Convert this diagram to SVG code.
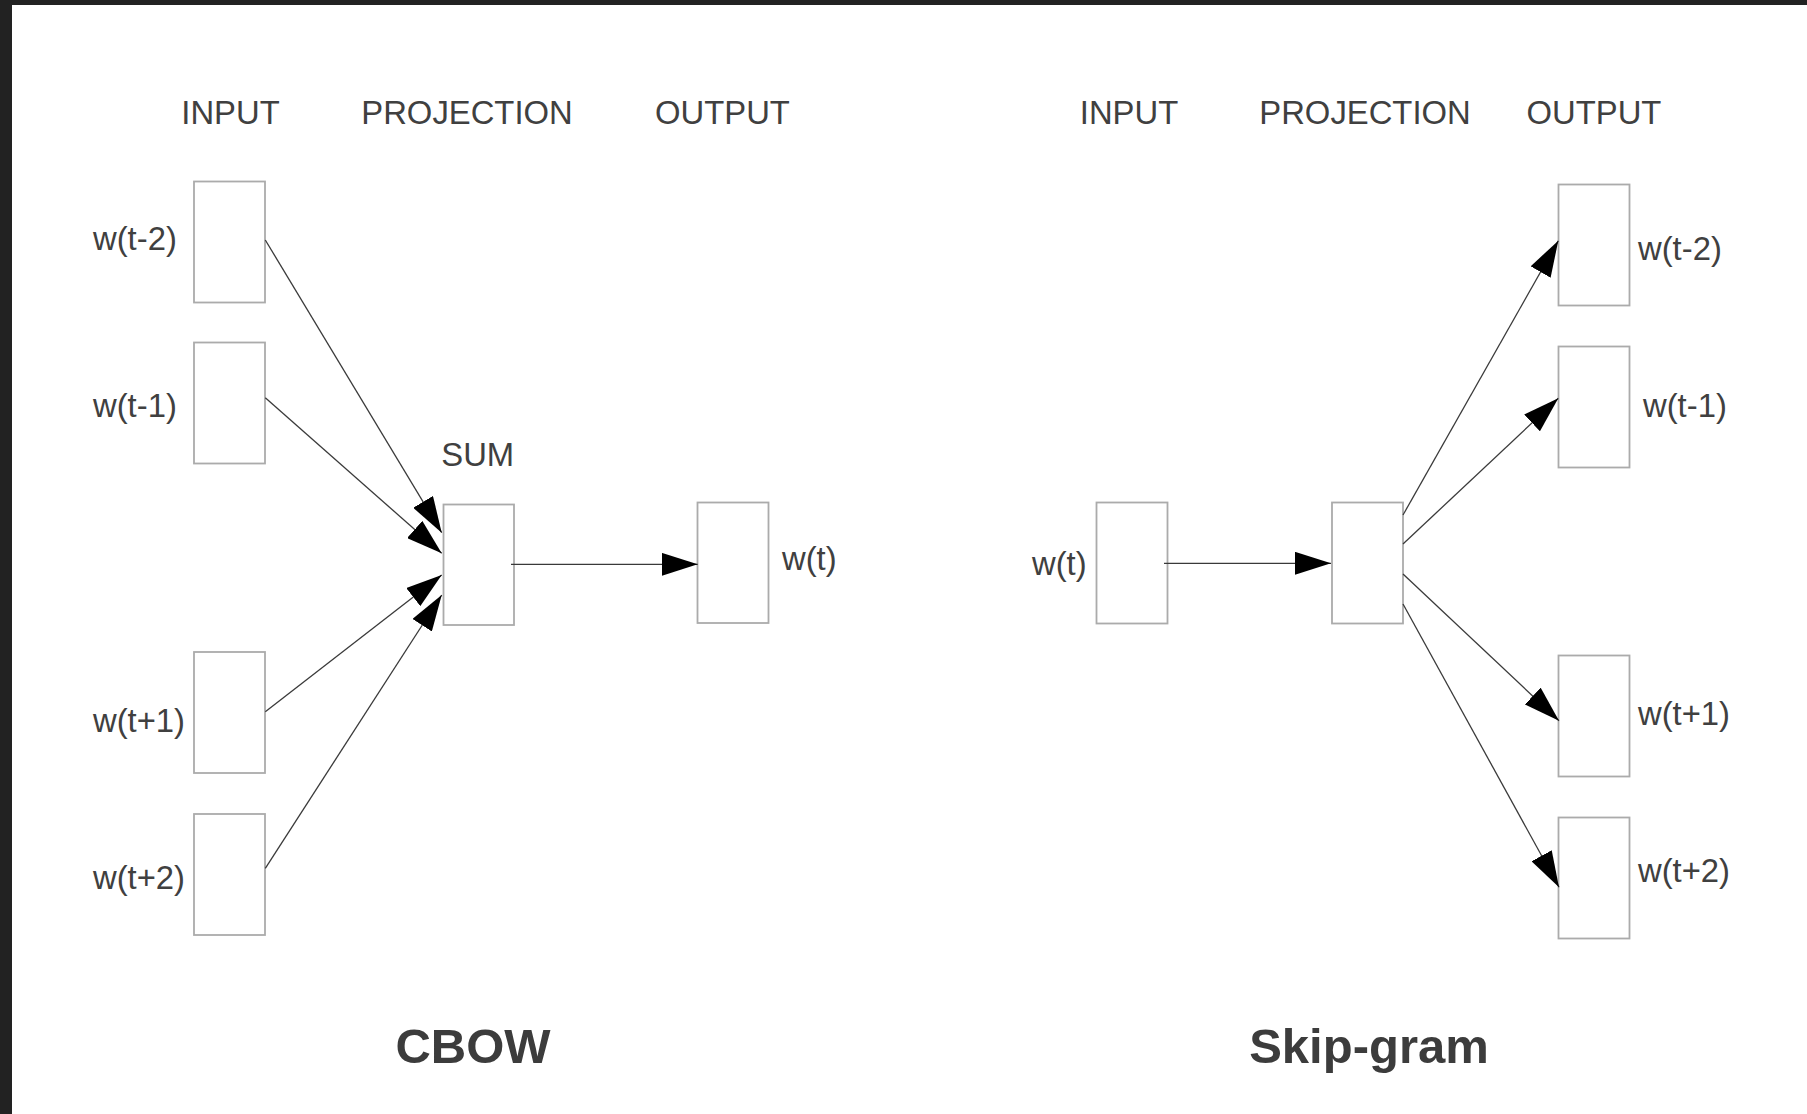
<svg xmlns="http://www.w3.org/2000/svg" width="1807" height="1114" viewBox="0 0 1807 1114">
  <style>
    .box { fill: #ffffff; stroke: #ababab; stroke-width: 1.8; }
    .txt { font-family: "Liberation Sans", Arial, Helvetica, sans-serif; font-size: 32.8px; fill: #404040; }
    .title { font-family: "Liberation Sans", Arial, Helvetica, sans-serif; font-size: 49px; font-weight: bold; fill: #3c3c3c; }
    .edge { stroke: #3a3a3a; stroke-width: 1.3; fill: none; marker-end: url(#head); }
  </style>
  <defs>
    <marker id="head" markerUnits="userSpaceOnUse" viewBox="0 0 36 23" markerWidth="36" markerHeight="23" refX="36" refY="11.5" orient="auto">
      <path d="M0,0 L36,11.5 L0,23 Z" fill="#000000"/>
    </marker>
  </defs>

  <!-- page and frame -->
  <rect x="0" y="0" width="1807" height="1114" fill="#ffffff"/>
  <rect x="0" y="0" width="1807" height="5" fill="#222222"/>
  <rect x="0" y="0" width="12" height="1114" fill="#222222"/>

  <!-- column headers -->
  <g id="headers" class="txt" text-anchor="middle">
    <text x="230.5" y="123.5">INPUT</text>
    <text x="467" y="123.5">PROJECTION</text>
    <text x="722.5" y="123.5">OUTPUT</text>
    <text x="1129" y="123.5">INPUT</text>
    <text x="1365" y="123.5">PROJECTION</text>
    <text x="1594" y="123.5">OUTPUT</text>
  </g>

  <!-- CBOW model -->
  <g id="cbow-in-t-2"><rect class="box" x="194" y="181.5" width="71" height="121"/><text class="txt" x="93" y="250">w(t-2)</text></g>
  <g id="cbow-in-t-1"><rect class="box" x="194" y="342.5" width="71" height="121"/><text class="txt" x="93" y="417">w(t-1)</text></g>
  <g id="cbow-in-t+1"><rect class="box" x="194" y="652" width="71" height="121"/><text class="txt" x="93" y="732">w(t+1)</text></g>
  <g id="cbow-in-t+2"><rect class="box" x="194" y="814" width="71" height="121"/><text class="txt" x="93" y="889">w(t+2)</text></g>
  <g id="cbow-sum"><rect class="box" x="443.5" y="504.5" width="70.5" height="120.5"/><text class="txt" x="477.7" y="466" text-anchor="middle">SUM</text></g>
  <g id="cbow-out"><rect class="box" x="697.5" y="502.5" width="71" height="120.5"/><text class="txt" x="782" y="570">w(t)</text></g>
  <g id="cbow-title"><text class="title" x="473" y="1063" text-anchor="middle">CBOW</text></g>

  <!-- Skip-gram model -->
  <g id="sg-in"><rect class="box" x="1096.5" y="502.5" width="71" height="121"/><text class="txt" x="1032" y="575">w(t)</text></g>
  <g id="sg-proj"><rect class="box" x="1332" y="502.5" width="71" height="121"/></g>
  <g id="sg-out-t-2"><rect class="box" x="1558.5" y="184.5" width="71" height="121"/><text class="txt" x="1638" y="260">w(t-2)</text></g>
  <g id="sg-out-t-1"><rect class="box" x="1558.5" y="346.5" width="71" height="121"/><text class="txt" x="1643" y="417">w(t-1)</text></g>
  <g id="sg-out-t+1"><rect class="box" x="1558.5" y="655.5" width="71" height="121"/><text class="txt" x="1638" y="725">w(t+1)</text></g>
  <g id="sg-out-t+2"><rect class="box" x="1558.5" y="817.5" width="71" height="121"/><text class="txt" x="1638" y="882">w(t+2)</text></g>
  <g id="sg-title"><text class="title" x="1369" y="1063" text-anchor="middle">Skip-gram</text></g>

  <!-- connectors -->
  <g id="connectors">
    <line class="edge" x1="265.3" y1="240" x2="441.7" y2="532.7"/>
    <line class="edge" x1="265.3" y1="397.7" x2="441.7" y2="553.3"/>
    <line class="edge" x1="265.3" y1="711.7" x2="441.7" y2="575"/>
    <line class="edge" x1="265.3" y1="868.3" x2="441.7" y2="595"/>
    <line class="edge" x1="511" y1="564.3" x2="697.7" y2="564.3"/>
    <line class="edge" x1="1164" y1="563.3" x2="1331" y2="563.3"/>
    <line class="edge" x1="1403" y1="515" x2="1558.3" y2="240.7"/>
    <line class="edge" x1="1403" y1="544" x2="1558.3" y2="398.3"/>
    <line class="edge" x1="1403" y1="574" x2="1559" y2="720.7"/>
    <line class="edge" x1="1403" y1="604" x2="1559" y2="887.3"/>
  </g>
</svg>
